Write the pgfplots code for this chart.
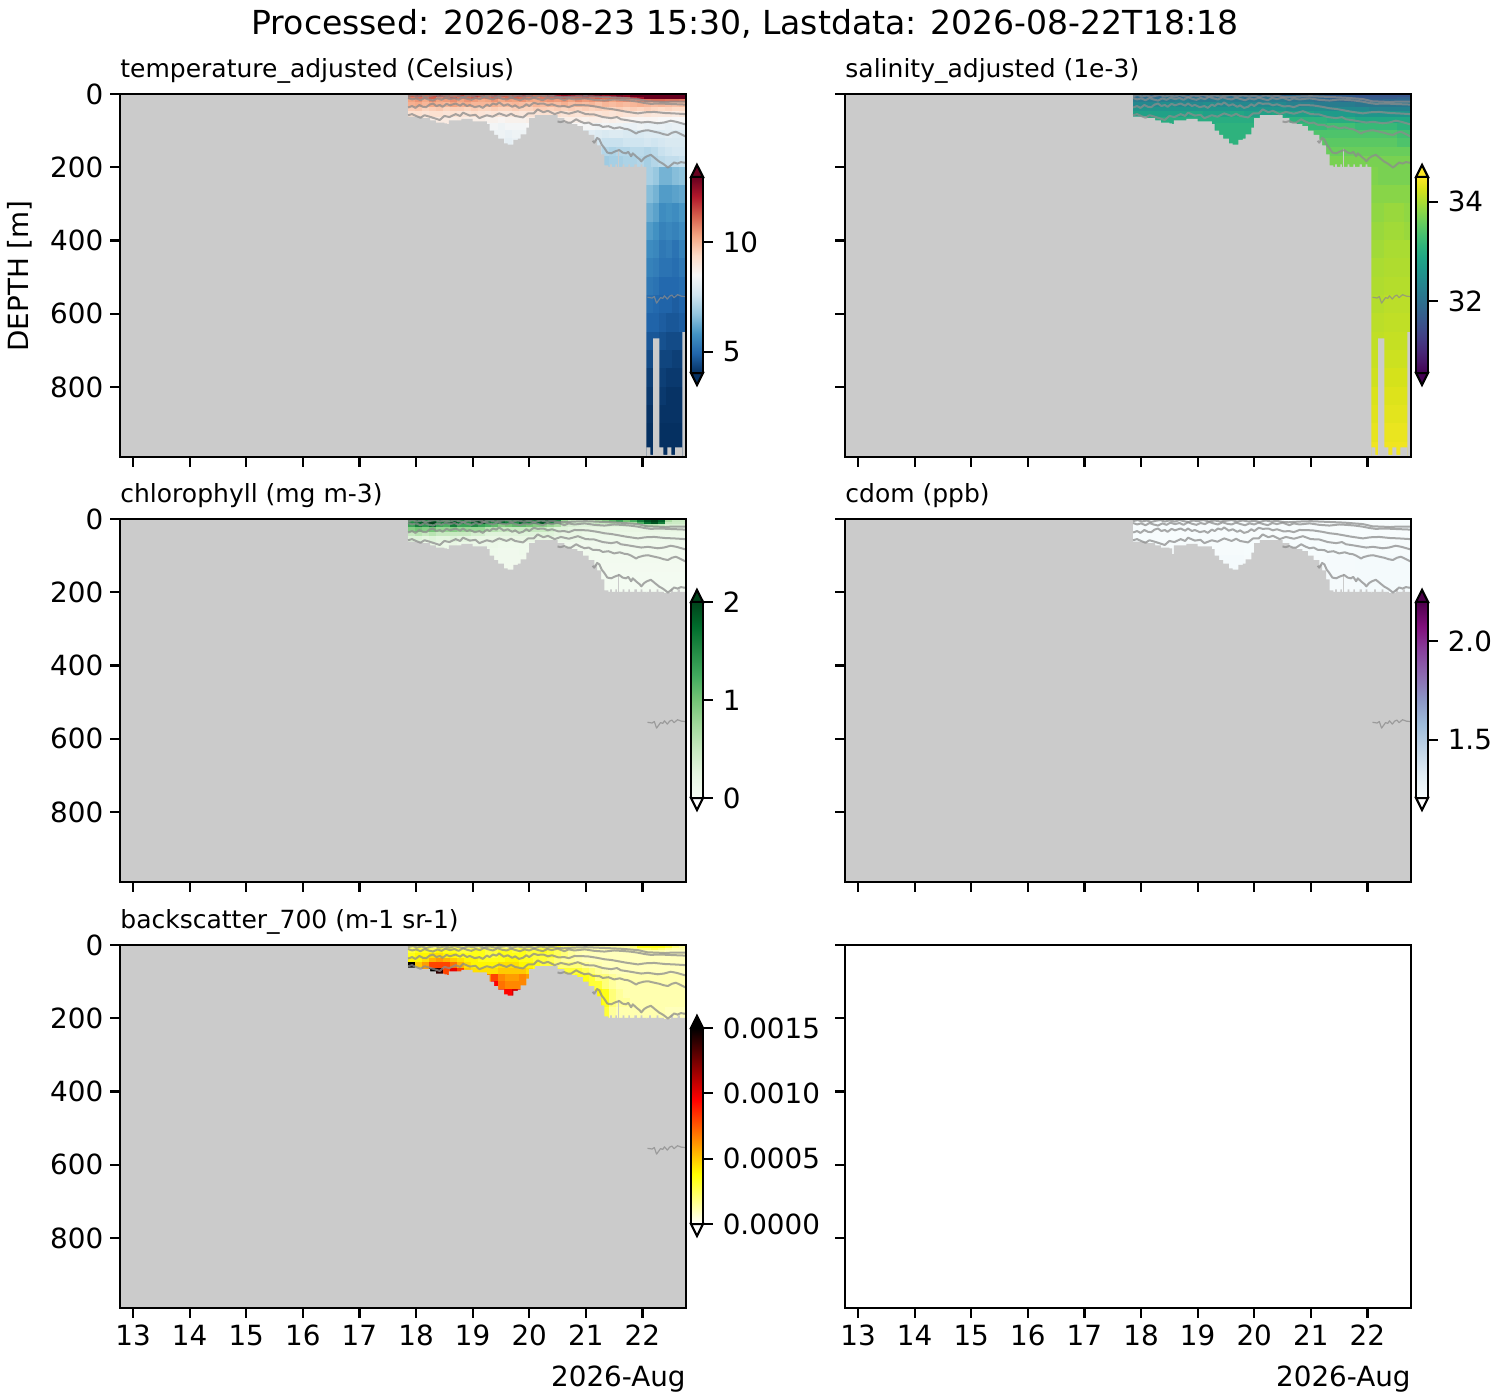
\documentclass[border=0pt]{standalone}
\usepackage{fontspec}
\setmainfont{DejaVu Sans}
\usepackage{pgfplots}
\pgfplotsset{compat=1.18}
\definecolor{gr}{RGB}{203,203,203}
\definecolor{rbtop}{RGB}{103,0,31}
\definecolor{rbbot}{RGB}{5,48,97}
\definecolor{vtop}{RGB}{253,231,37}
\definecolor{vbot}{RGB}{68,1,84}
\definecolor{gtop}{RGB}{0,68,27}
\definecolor{ptop}{RGB}{77,0,75}
\newcommand\ticksize{\fontsize{13.9}{16}\selectfont}
\newcommand\subsize{\fontsize{12.5}{15}\selectfont}
\pgfplotsset{
 colormap={rdbu}{rgb255=(5,48,97) rgb255=(33,102,172) rgb255=(67,147,195) rgb255=(146,197,222) rgb255=(209,229,240) rgb255=(247,247,247) rgb255=(253,219,199) rgb255=(244,165,130) rgb255=(214,96,77) rgb255=(178,24,43) rgb255=(103,0,31)},
 colormap={greens}{rgb255=(247,252,245) rgb255=(229,245,224) rgb255=(199,233,192) rgb255=(161,217,155) rgb255=(116,196,118) rgb255=(65,171,93) rgb255=(35,139,69) rgb255=(0,109,44) rgb255=(0,68,27)},
 colormap={bupu}{rgb255=(247,252,253) rgb255=(224,236,244) rgb255=(191,211,230) rgb255=(158,188,218) rgb255=(140,150,198) rgb255=(140,107,177) rgb255=(136,65,157) rgb255=(129,15,124) rgb255=(77,0,75)},
 colormap={hotr}{rgb255(0cm)=(255,255,255) rgb255(2.54cm)=(255,255,0) rgb255(6.35cm)=(255,0,0) rgb255(10cm)=(0,0,0)},
 panel/.style={scale only axis,width=283pt,height=181.5pt,xmin=12.77,xmax=22.77,ymin=0,ymax=991,y dir=reverse,
  xtick={13,14,15,16,17,18,19,20,21,22},ytick={0,200,400,600,800},xtick pos=bottom,ytick pos=left,
  tick align=outside,axis line style={line width=1.11pt},major tick length=4.86pt,
  every tick/.style={black,line width=1.11pt},tick label style={font=\ticksize},axis on top,clip=true},
 cbar/.style={colorbar,colorbar style={at={(1.00883,0.2314)},anchor=south west,scale only axis,width=6pt,height=98pt,
  ytick pos=right,yticklabel pos=right,tick align=outside,major tick length=4.86pt,axis line style={line width=1.11pt},
  every tick/.style={black,line width=1.11pt},tick label style={font=\ticksize},yticklabel style={xshift=1.5pt},#1}},
 ptitle/.style={after end axis/.append code={\node[anchor=base west,inner sep=0pt,font=\subsize] at (axis description cs:0,1.046) {#1};}},
 ext/.style 2 args={after end axis/.append code={
  \draw[fill=#1,line width=1.11pt] (axis description cs:1.00883,0.7713)--(axis description cs:1.01943,0.8044)--(axis description cs:1.03004,0.7713)--cycle;
  \draw[fill=#2,line width=1.11pt] (axis description cs:1.00883,0.2314)--(axis description cs:1.01943,0.1983)--(axis description cs:1.03004,0.2314)--cycle;}},
}
\newtoks\celltoks
\newcount\celli
% #1 name, #2 first x edge, #3 cell width, #4 rows: depth top/depth bottom/first column/{values}
\newcommand\MakeCells[4]{\global\celltoks={}%
 \foreach \ya/\yb/\st/\vals in {#4}{%
  \global\celli=\st\relax
  \foreach \v in \vals {%
   \pgfmathsetmacro\xa{#2+\the\celli*#3}%
   \pgfmathsetmacro\xb{#2+(\the\celli+1)*#3}%
   \xdef\tmpc{\the\celltoks (\xa,\ya)[\v] (\xb,\ya)[\v] (\xb,\yb)[\v] (\xa,\yb)[\v] }%
   \global\celltoks=\expandafter{\tmpc}%
   \global\advance\celli by 1\relax
  }}%
 \expandafter\xdef\csname #1\endcsname{\the\celltoks}}
\newcommand\drawcells[1]{\edef\temp{\noexpand\addplot[patch,patch type=rectangle,shader=flat,point meta=explicit,forget plot] coordinates {\csname #1\endcsname};}\temp}
% temperature
\MakeCells{Tup}{17.87}{0.1225}{
0/8/0/{11.2,11.6,11.0,11.4,11.8,11.3,11.0,11.5,11.2,11.7,11.4,11.0,11.6,11.3,11.2,11.5,11.8,11.4,11.0,11.2,11.6,12.0,12.4,12.2,12.0,12.5,12.3,12.6,12.2,12.4,12.7,12.5,13.0,13.3,13.5,13.5,13.5,13.5,13.5,13.5},
8/16/0/{10.8,11.0,10.9,11.2,10.7,11.0,11.3,10.9,11.0,11.2,10.8,10.9,11.1,10.8,11.0,11.1,11.0,10.8,10.7,10.9,11.0,11.1,11.2,11.0,11.1,11.3,11.0,11.2,11.0,11.1,11.3,11.2,11.9,12.3,13.0,13.2,13.3,13.4,13.3,13.4},
16/24/0/{10.3,10.5,10.2,10.6,10.3,10.4,10.6,10.3,10.5,10.4,10.2,10.3,10.5,10.2,10.4,10.3,10.5,10.3,10.2,10.4,10.5,10.4,10.5,10.3,10.6,10.4,10.5,10.4,10.6,10.3,10.5,10.6,10.5,10.7,10.9,11.0,11.0,10.9,10.9,10.8},
24/36/0/{10.1,10.2,10.0,10.2,10.1,10.0,10.3,10.1,10.2,10.0,10.0,10.0,10.1,9.9,9.9,10.0,9.9,9.8,10.0,9.9,10.0,9.9,10.1,9.9,10.0,9.9,10.0,9.8,10.0,9.9,10.0,9.9,10.0,10.1,10.0,9.9,10.0,9.9,9.8,9.9},
36/48/0/{9.6,9.7,9.5,9.6,9.7,9.5,9.6,9.6,9.5,9.6,9.5,9.5,9.6,9.5,9.5,9.6,9.5,9.5,9.6,9.6,9.5,9.6,9.5,9.6,9.5,9.6,9.5,9.6,9.5,9.5,9.6,9.5,9.6,9.5,9.6,9.5,9.4,9.5,9.4,9.4},
48/64/0/{9.2,9.2,9.1,9.2,9.2,9.1,9.2,9.1,9.1,9.2,9.1,9.0,9.1,9.0,9.0,9.1,9.0,9.1,9.1,9.2,9.2,9.2,9.1,9.2,9.1,9.2,9.2,9.1,9.2,9.1,9.2,9.1,9.1,9.0,9.1,9.0,9.0,9.0,8.9,9.0},
64/80/0/{8.9,8.9,8.9,8.8,8.9,8.9,8.8,8.9,8.8,8.8,8.8,8.7,8.7,8.6,8.7,8.7,8.7,8.8,8.8,8.8,8.8,8.8,8.8,8.8,8.8,8.7,8.8,8.8,8.7,8.8,8.7,8.7,8.6,8.6,8.6,8.6,8.5,8.5,8.5,8.5},
80/100/11/{8.4,8.4,8.3,8.4,8.4,8.4,8.5,8.5,8.5,8.5,8.5,8.5,8.5,8.5,8.4,8.4,8.3,8.4,8.3,8.3,8.2,8.2,8.3,8.2,8.2,8.2,8.1,8.2,8.2},
100/120/12/{8.3,8.3,8.2,8.3,8.3,8.3,8.3,8.3,8.3,8.3,8.3,8.3,8.3,8.0,8.0,7.9,7.8,7.9,7.9,7.8,7.8,7.8,7.9,7.9,7.9,8.0,7.9,7.9},
120/145/12/{8.2,8.2,8.1,8.2,8.2,8.2,8.2,8.2,8.2,8.2,8.2,8.2,8.2,8.0,7.7,7.7,7.5,7.5,7.5,7.6,7.6,7.6,7.7,7.6,7.7,7.8,7.8,7.8},
145/170/26/{7.5,7.4,7.2,7.1,7.2,7.2,7.3,7.3,7.2,7.3,7.5,7.6,7.7,7.7},
170/200/27/{7.0,6.9,7.0,7.0,7.1,7.1,7.2,7.0,7.2,7.3,7.4,7.4,7.5}}
\MakeCells{Tdeep}{22.07}{0.1167}{
200/250/0/{7.0,6.8,6.4,6.4,6.6,6.7},250/300/0/{6.6,6.4,6.0,6.0,6.1,6.2},300/350/0/{6.3,6.1,5.7,5.8,5.7,5.9},350/400/0/{6.0,5.8,5.5,5.6,5.5,5.7},
400/450/0/{5.7,5.6,5.3,5.4,5.2,5.5},450/500/0/{5.5,5.4,5.2,5.2,5.1,5.3},500/550/0/{5.3,5.2,5.0,5.0,5.0,5.1},550/600/0/{5.1,5.0,4.9,4.9,4.8,4.9},
600/650/0/{4.9,4.9,4.8,4.7,4.7,4.8},650/700/0/{4.7,4.7,4.6,4.5,4.5,4.5},700/750/0/{4.5,4.5,4.4,4.4,4.3,4.3},750/800/0/{4.3,4.3,4.3,4.2,4.2,4.2},
800/850/0/{4.2,4.2,4.2,4.1,4.1,4.1},850/900/0/{4.1,4.1,4.1,4.1,4.1,4.1},900/950/0/{4.05,4.05,4.05,4.05,4.05,4.05},950/991/0/{4.05,4.05,4.05,4.05,4.05,4.05}}
% salinity
\MakeCells{Sup}{17.87}{0.245}{
0/8/0/{31.9,31.8,31.9,31.9,31.8,31.9,32.0,31.9,31.9,31.9,31.8,31.9,31.8,31.8,31.7,31.7,31.6,31.6,31.6,31.6},
8/16/0/{32.0,32.0,32.1,32.0,32.1,32.0,32.0,32.1,32.0,32.1,32.0,32.0,31.9,31.9,31.8,31.8,31.7,31.7,31.7,31.8},
16/24/0/{32.2,32.2,32.2,32.3,32.2,32.2,32.3,32.2,32.2,32.2,32.2,32.1,32.1,32.0,32.0,31.9,31.9,31.8,31.9,31.9},
24/36/0/{32.4,32.4,32.5,32.4,32.4,32.5,32.4,32.4,32.4,32.4,32.4,32.3,32.3,32.2,32.2,32.2,32.1,32.1,32.1,32.1},
36/48/0/{32.6,32.6,32.6,32.6,32.6,32.6,32.6,32.6,32.6,32.6,32.6,32.5,32.5,32.5,32.4,32.4,32.4,32.3,32.3,32.3},
48/64/0/{32.8,32.8,32.8,32.8,32.9,32.8,32.8,32.9,32.8,32.8,32.9,32.8,32.8,32.7,32.7,32.7,32.6,32.6,32.6,32.6},
64/80/0/{33.0,33.0,33.0,33.0,33.0,33.0,33.0,33.0,33.0,33.0,33.0,33.1,33.1,33.1,33.0,33.0,32.9,32.9,32.9,32.9},
80/100/5/{33.0,33.1,33.1,33.1,33.1,33.1,33.1,33.2,33.2,33.3,33.3,33.2,33.2,33.2,33.1},
100/120/6/{33.1,33.1,33.1,33.1,33.1,33.2,33.3,33.4,33.4,33.4,33.4,33.4,33.4,33.3},
120/145/6/{33.1,33.1,33.1,33.1,33.1,33.2,33.4,33.5,33.5,33.5,33.5,33.5,33.5,33.4},
145/170/13/{33.6,33.6,33.6,33.6,33.6,33.6,33.6},
170/200/13/{33.7,33.7,33.7,33.7,33.7,33.7,33.7}}
\MakeCells{Sdeep}{22.07}{0.1167}{
200/250/0/{33.75,33.7,33.7,33.7,33.7,33.7},250/300/0/{33.8,33.8,33.8,33.8,33.8,33.8},300/350/0/{33.85,33.85,33.9,33.9,33.9,33.85},350/400/0/{33.9,33.9,33.95,33.95,33.95,33.9},
400/450/0/{33.95,33.95,34.0,34.0,34.0,34.0},450/500/0/{34.0,34.0,34.03,34.03,34.03,34.03},500/550/0/{34.03,34.03,34.06,34.06,34.06,34.06},550/600/0/{34.06,34.06,34.1,34.1,34.1,34.1},
600/650/0/{34.1,34.1,34.13,34.13,34.13,34.13},650/700/0/{34.13,34.13,34.16,34.16,34.16,34.16},700/750/0/{34.18,34.18,34.2,34.2,34.2,34.2},750/800/0/{34.22,34.22,34.25,34.25,34.25,34.25},
800/850/0/{34.28,34.28,34.3,34.3,34.3,34.3},850/900/0/{34.32,34.32,34.34,34.34,34.34,34.34},900/950/0/{34.36,34.36,34.38,34.38,34.38,34.38},950/991/0/{34.42,34.42,34.42,34.42,34.42,34.42}}
% chlorophyll
\MakeCells{Chl}{17.87}{0.1225}{
0/8/0/{1.4,1.7,1.5,1.9,1.6,1.4,1.8,1.6,1.5,1.9,2.0,1.7,1.6,1.8,1.5,1.6,1.9,1.7,1.6,1.8,1.9,1.5,0.8,0.5,0.4,0.4,0.5,0.7,0.9,1.1,1.3,1.0,1.2,1.6,1.9,2.0,1.8,0.7,0.5,0.5},
8/16/0/{1.5,1.8,1.9,2.0,1.6,1.8,2.0,1.7,1.5,1.8,2.0,1.7,1.5,1.8,1.6,1.5,1.8,1.6,1.7,1.9,1.6,1.2,0.6,0.4,0.4,0.4,0.4,0.5,0.5,0.6,0.6,0.6,0.7,1.2,1.7,1.9,1.6,0.5,0.45,0.45},
16/24/0/{1.3,1.6,1.4,1.7,1.3,1.2,1.6,1.3,1.3,1.5,1.3,1.2,1.1,0.9,1.0,1.1,1.1,1.0,0.9,0.9,0.8,0.7,0.4,0.35,0.3,0.3,0.3,0.3,0.3,0.3,0.3,0.3,0.3,0.4,0.6,0.6,0.5,0.35,0.35,0.35},
24/36/0/{0.9,1.0,0.9,1.0,0.8,0.8,0.9,0.8,0.8,0.8,0.8,0.6,0.6,0.5,0.5,0.5,0.5,0.5,0.5,0.5,0.4,0.3,0.3,0.25,0.25,0.2,0.2,0.2,0.2,0.2,0.2,0.2,0.2,0.2,0.2,0.2,0.2,0.2,0.2,0.2},
36/48/0/{0.5,0.6,0.5,0.6,0.5,0.5,0.5,0.5,0.5,0.4,0.4,0.3,0.3,0.3,0.3,0.3,0.3,0.3,0.3,0.3,0.3,0.25,0.2,0.2,0.2,0.15,0.15,0.15,0.15,0.15,0.15,0.15,0.15,0.15,0.15,0.15,0.15,0.15,0.15,0.15},
48/64/0/{0.3,0.3,0.25,0.3,0.25,0.25,0.3,0.25,0.25,0.2,0.2,0.2,0.2,0.2,0.2,0.2,0.2,0.2,0.2,0.2,0.2,0.15,0.15,0.15,0.15,0.12,0.12,0.12,0.12,0.12,0.12,0.12,0.12,0.12,0.12,0.12,0.12,0.12,0.12,0.12},
64/80/0/{0.2,0.2,0.15,0.2,0.2,0.15,0.2,0.15,0.15,0.15,0.15,0.15,0.15,0.12,0.12,0.12,0.12,0.12,0.12,0.12,0.12,0.1,0.1,0.1,0.1,0.1,0.1,0.1,0.1,0.1,0.1,0.1,0.1,0.1,0.1,0.1,0.1,0.1,0.1,0.1},
80/100/11/{0.12,0.12,0.1,0.1,0.1,0.12,0.1,0.1,0.1,0.1,0.1,0.1,0.1,0.08,0.08,0.08,0.08,0.08,0.08,0.08,0.08,0.08,0.08,0.08,0.08,0.08,0.08,0.08,0.08},
100/120/12/{0.1,0.1,0.1,0.1,0.1,0.1,0.1,0.1,0.1,0.1,0.1,0.1,0.08,0.08,0.08,0.07,0.07,0.07,0.07,0.07,0.07,0.07,0.07,0.07,0.07,0.07,0.07,0.07},
120/145/12/{0.1,0.1,0.09,0.09,0.09,0.09,0.09,0.09,0.09,0.09,0.09,0.09,0.09,0.08,0.07,0.06,0.06,0.06,0.06,0.06,0.06,0.06,0.06,0.06,0.06,0.06,0.06,0.06},
145/170/26/{0.05,0.05,0.05,0.05,0.05,0.05,0.05,0.05,0.05,0.05,0.05,0.05,0.05,0.05},
170/200/27/{0.05,0.05,0.05,0.05,0.05,0.05,0.05,0.05,0.05,0.05,0.05,0.05,0.05}}
% cdom
\MakeCells{Cdom}{17.87}{0.49}{
0/60/0/{1.207,1.207,1.207,1.207,1.207,1.207,1.207,1.207,1.207,1.207},
60/100/0/{1.21,1.215,1.215,1.215,1.21,1.21,1.21,1.21,1.215,1.215},
100/200/0/{1.215,1.22,1.222,1.222,1.215,1.215,1.215,1.22,1.222,1.222}}
% backscatter, in units of 0.0001
\MakeCells{Bs}{17.87}{0.1225}{
0/8/0/{2,2,2,1.5,2,2,2.5,2,2,2,1.5,2,2,2,1.5,2,2,2,2,2.5,2.5,3,2,2,1.5,1.5,1.5,1.5,1.5,1.5,1.5,1.5,2,3.5,3.5,3.5,3.5,3,2,1.5},
8/16/0/{2.5,3,3,2.5,3,3,3,2.5,2.5,3,3,2.5,2.5,2.5,2.5,2.5,3,2.5,2.5,3,3,2.5,2,1.5,1.5,1.5,1.2,1.2,1.2,1.2,1.2,1.2,1.5,2,2,2.5,2,1.5,1.2,1.2},
16/24/0/{3,3.5,3.5,3.5,4,3.5,3.5,3,3,3.5,3.5,3,3,3.5,3.5,3,3.5,3,3,3.5,3,2.5,2,1.5,1.2,1.2,1.2,1,1,1,1,1,1,1,1.2,1.2,1.2,1,1,1},
24/36/0/{3.5,4,4,4.5,4.5,4,4,3.5,3.5,3.5,3.5,3,3,3.5,3.5,3.5,3.5,3,3,3,3,2.5,2,1.5,1.2,1,1,1,1,1,1,1,1,1,1,1,1,1,1,1},
36/48/0/{4,4,4.5,5.5,6,5.5,5,4.5,4,4,3.5,3.5,3.5,3.5,4,4,3.5,3.5,3,3,2.5,2,1.5,1.5,1.2,1,1,1,1,1,1,1,1,1,1,1,1,1,1,1},
48/64/0/{15,5,6,8,8,8,7,5.5,4.5,4,4,4,4,4.5,4.5,4.5,4,4,3.5,3,3,2,2,2,2,1.5,1.2,1.2,1,1,1,1,1,1,1,1,1,1,1,1},
64/80/0/{6,5,6,15,14,8,10,8,5,4.5,4.5,4.5,4.5,5,5,5,5,4.5,3.5,3,3,3,3,3,3,2.5,2,1.5,1.2,1,1,1,1,1,1,1,1,1,1,1},
80/100/11/{6.5,8,6.5,6,6,6.5,6,4.5,3,3,3,3,3,3.5,3.5,3,2,2,1.5,1.2,1.2,1.2,1.2,1.2,1.2,1.2,1.2,1.2,1.2},
100/120/12/{9.5,7,6.5,6.5,6.5,6,5,3,3,3,3,3,3.5,3.5,3,3,2,1.5,1.2,1.2,1.2,1.2,1.2,1.2,1.2,1.2,1.2,1.2},
120/145/12/{11,9,9.5,10.5,10,8,6,3,3,3,3,3,3,3,3.5,4,3.5,2,1.5,1.2,1.2,1.2,1.2,1.2,1.2,1.2,1.2,1.2},
145/170/26/{4,4,3.5,2,1.5,1.5,1.2,1.2,1.2,1.2,1.2,1.2,1.2,1.2},
170/200/27/{4,3,1.5,1.2,1.2,1.2,1.2,1.2,1.2,1.2,1,1,1}}
\def\maskA{\addplot[const plot,fill=gr,draw=none,forget plot] coordinates {(17.86,62)(18.1,66)(18.25,72)(18.35,78)(18.5,80)(18.55,96)(18.58,72)(18.8,68)(18.95,68)(19.0,75)(19.1,75)(19.25,82)(19.3,100)(19.38,112)(19.45,122)(19.55,135)(19.62,138)(19.72,125)(19.8,122)(19.85,110)(19.95,92)(20.0,66)(20.1,58)(20.35,58)(20.5,66)(20.62,78)(20.75,82)(20.85,88)(20.95,100)(21.05,112)(21.15,125)(21.2,140)(21.27,165)(21.33,195)(21.4,199)(21.43,192)(21.46,199)(21.52,192)(21.55,199)(21.57,150)(21.585,199)(21.65,192)(21.68,199)(21.75,192)(21.78,199)(21.86,192)(21.9,199)(21.97,192)(22.0,199)(22.07,991)(17.86,991)} -- cycle;}
\def\maskDeep{\addplot[const plot,fill=gr,draw=none,forget plot] coordinates {(22.07,965)(22.14,985)(22.19,667)(22.30,965)(22.37,985)(22.44,965)(22.51,985)(22.58,965)(22.706,991)(22.07,991)} -- cycle;
 \addplot[const plot,fill=gr,draw=none,forget plot] coordinates {(22.706,650)(22.77,650)(22.77,991)(22.706,991)} -- cycle;}
\def\maskShelf{\addplot[const plot,fill=gr,draw=none,forget plot] coordinates {(22.07,199)(22.12,192)(22.15,199)(22.25,192)(22.28,199)(22.38,203)(22.5,192)(22.54,199)(22.62,192)(22.66,199)(22.77,991)(22.07,991)} -- cycle;}
\def\contours{\pgfplotsset{ctr/.style={color=black!45,opacity=.75,line width=1pt,line join=round,forget plot}}%
\addplot[ctr] coordinates {(21.12,128)(21.15,133)(21.2,120)(21.24,124)(21.28,138)(21.33,148)(21.38,160)(21.45,162)(21.5,158)(21.55,155)(21.59,153)(21.65,160)(21.71,162)(21.75,158)(21.8,170)(21.83,162)(21.9,172)(21.95,178)(21.98,184)(22.03,175)(22.08,170)(22.15,166)(22.22,175)(22.3,185)(22.36,190)(22.42,197)(22.45,201)(22.5,195)(22.56,187)(22.62,190)(22.68,186)(22.76,188)};
\addplot[ctr] coordinates {(20.5,75)(20.55,77)(20.62,74)(20.68,78)(20.74,78)(20.8,72)(20.83,69)(20.9,75)(20.98,80)(21.05,78)(21.12,84)(21.24,85)(21.3,90)(21.4,88)(21.5,94)(21.6,91)(21.68,95)(21.74,96)(21.8,100)(21.89,108)(21.93,104)(22.03,100)(22.1,99)(22.21,103)(22.3,106)(22.38,110)(22.45,112)(22.52,106)(22.59,103)(22.66,108)(22.76,116)};
\addplot[ctr] coordinates {(17.86,58)(17.93,55)(18.0,60)(18.08,65)(18.15,58)(18.24,62)(18.32,66)(18.42,71)(18.5,60)(18.59,63)(18.7,55)(18.78,60)(18.83,51)(18.95,59)(19.05,57)(19.12,66)(19.25,58)(19.35,62)(19.47,53)(19.6,60)(19.68,54)(19.75,60)(19.89,64)(19.98,53)(20.08,53)(20.15,42)(20.25,50)(20.33,46)(20.45,55)(20.56,49)(20.7,54)(20.86,47)(21.0,55)(21.15,56)(21.3,63)(21.45,66)(21.55,63)(21.62,69)(21.75,72)(21.9,76)(21.98,78)(22.1,76)(22.27,80)(22.38,78)(22.5,73)(22.6,76)(22.76,83)};
\addplot[ctr] coordinates {(17.86,37)(17.93,33)(17.99,38)(18.06,30)(18.12,35)(18.18,36)(18.24,29)(18.3,26)(18.36,33)(18.42,30)(18.47,35)(18.54,27)(18.6,31)(18.7,26)(18.78,32)(18.83,26)(18.9,33)(18.95,30)(19.04,36)(19.12,33)(19.18,38)(19.25,29)(19.3,33)(19.36,26)(19.42,29)(19.47,23)(19.55,32)(19.62,28)(19.7,35)(19.75,31)(19.82,38)(19.89,35)(19.95,28)(20.0,33)(20.08,24)(20.15,27)(20.25,26)(20.33,31)(20.4,28)(20.52,34)(20.62,33)(20.7,36)(20.8,30)(21.03,31)(21.2,35)(21.33,39)(21.45,41)(21.56,44)(21.7,48)(21.92,53)(22.05,50)(22.21,49)(22.4,52)(22.55,53)(22.76,55)};
\addplot[ctr] coordinates {(17.86,11)(17.93,15)(18.0,12)(18.08,17)(18.15,11)(18.22,15)(18.3,18)(18.38,12)(18.45,16)(18.52,10)(18.6,14)(18.68,11)(18.75,16)(18.83,9)(18.9,13)(18.98,16)(19.05,11)(19.13,14)(19.2,8)(19.28,12)(19.36,15)(19.44,9)(19.52,13)(19.6,15)(19.68,10)(19.76,14)(19.84,17)(19.92,12)(20.0,15)(20.08,10)(20.16,14)(20.24,17)(20.32,11)(20.4,14)(20.5,10)(20.62,17)(20.7,12)(20.8,15)(20.98,12)(21.15,16)(21.33,18)(21.5,15)(21.62,16)(21.78,18)(21.92,21)(22.05,25)(22.15,27)(22.3,26)(22.45,27)(22.6,28)(22.76,29)};
\addplot[ctr] coordinates {(17.86,6)(17.94,3)(18.02,7)(18.1,4)(18.18,8)(18.26,5)(18.34,3)(18.42,7)(18.5,4)(18.6,7)(18.68,3)(18.76,6)(18.84,8)(18.92,4)(19.0,6)(19.1,3)(19.2,7)(19.3,4)(19.4,7)(19.5,5)(19.6,3)(19.7,7)(19.8,4)(19.9,7)(20.0,5)(20.1,8)(20.2,4)(20.3,7)(20.4,5)(20.5,8)(20.6,9)(20.8,7)(21.0,6)(21.3,8)(21.6,10)(21.92,14)(22.09,20)(22.27,21)(22.4,22)(22.5,21)(22.76,21)};
\addplot[ctr,line width=.6pt] coordinates {(22.09,555)(22.17,557)(22.21,553)(22.25,571)(22.32,556)(22.36,558)(22.39,551)(22.44,560)(22.48,552)(22.52,549)(22.56,556)(22.62,548)(22.69,552)(22.76,553)};}
\begin{document}
\begin{tikzpicture}
\path[use as bounding box] (0pt,0pt) rectangle (750pt,700pt);
\node[anchor=base,inner sep=0pt,font=\fontsize{16.53}{20}\selectfont] at (372.5pt,682.5pt) {Processed: 2026-08-23 15:30, Lastdata: 2026-08-22T18:18};
\node[rotate=90,anchor=center,inner sep=0pt,font=\ticksize] at (10pt,562pt) {DEPTH [m]};
% temperature
\begin{axis}[panel,at={(60pt,471.5pt)},anchor=south west,axis background/.style={fill=gr},colormap name=rdbu,point meta min=4.05,point meta max=12.95,
 xticklabels={},yticklabels={0,200,400,600,800},
 cbar={ytick={5,10},yticklabels={5,10}},ptitle={temperature\_adjusted (Celsius)},ext={rbtop}{rbbot}]
\drawcells{Tup}\drawcells{Tdeep}\maskA\maskDeep\contours
\end{axis}
% salinity
\begin{axis}[panel,at={(422.5pt,471.5pt)},anchor=south west,axis background/.style={fill=gr},colormap/viridis,point meta min=30.55,point meta max=34.5,
 xticklabels={},yticklabels={},
 cbar={ytick={32,34},yticklabels={32,34}},ptitle={salinity\_adjusted (1e-3)},ext={vtop}{vbot}]
\drawcells{Sup}\drawcells{Sdeep}\maskA\maskDeep\contours
\end{axis}
% chlorophyll
\begin{axis}[panel,at={(60pt,259pt)},anchor=south west,axis background/.style={fill=gr},colormap name=greens,point meta min=0,point meta max=2,
 xticklabels={},yticklabels={0,200,400,600,800},
 cbar={ytick={0,1,2},yticklabels={0,1,2}},ptitle={chlorophyll (mg m-3)},ext={gtop}{white}]
\drawcells{Chl}\maskA\maskShelf\contours
\end{axis}
% cdom
\begin{axis}[panel,at={(422.5pt,259pt)},anchor=south west,axis background/.style={fill=gr},colormap name=bupu,point meta min=1.207,point meta max=2.197,
 xticklabels={},yticklabels={},
 cbar={ytick={1.5,2},yticklabels={1.5,2.0}},ptitle={cdom (ppb)},ext={ptop}{white}]
\drawcells{Cdom}\maskA\maskShelf\contours
\end{axis}
% backscatter
\begin{axis}[panel,at={(60pt,46pt)},anchor=south west,axis background/.style={fill=gr},colormap name=hotr,point meta min=0,point meta max=15,
 xticklabels={13,14,15,16,17,18,19,20,21,22},yticklabels={0,200,400,600,800},
 cbar={ytick={0,5,10,15},yticklabels={0.0000,0.0005,0.0010,0.0015}},ptitle={backscatter\_700 (m-1 sr-1)},ext={black}{white},
 after end axis/.append code={\node[anchor=base east,inner sep=0pt,font=\ticksize] at (axis description cs:1,-0.215) {2026-Aug};}]
\drawcells{Bs}\maskA\maskShelf\contours
\end{axis}
% empty panel
\begin{axis}[panel,at={(422.5pt,46pt)},anchor=south west,
 xticklabels={13,14,15,16,17,18,19,20,21,22},yticklabels={},
 after end axis/.append code={\node[anchor=base east,inner sep=0pt,font=\ticksize] at (axis description cs:1,-0.215) {2026-Aug};}]
\addplot[draw=none,forget plot] coordinates {(13,100)};
\end{axis}
\end{tikzpicture}
\end{document}
